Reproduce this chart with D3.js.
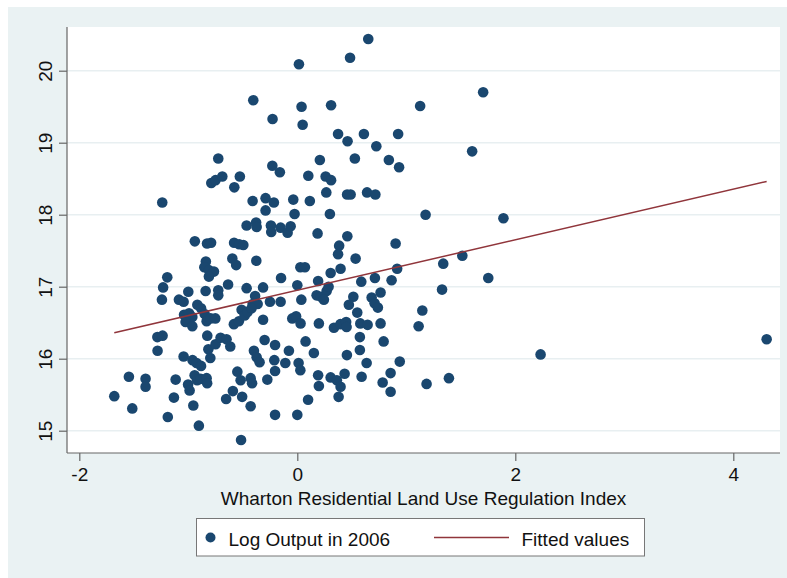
<!DOCTYPE html>
<html>
<head>
<meta charset="utf-8">
<script src="https://cdn.jsdelivr.net/npm/d3@7"></script>
<style>
  html, body { margin: 0; padding: 0; background: #ffffff; }
  svg { display: block; }
  text { font-family: "Liberation Sans", Arial, Helvetica, sans-serif; fill: #111; }
</style>
</head>
<body>
<svg id="chart" width="787" height="578"></svg>
<script>
// Wharton Residential Land Use Regulation Index (x)
const wrluri = [
  0.651, 0.484, 0.015, 1.705, -0.404, 0.039, 0.310, 1.127, -0.227, 0.049,
  0.374, 0.611, 0.925, 0.461, 0.725, 1.604, -0.725, 0.528, 0.207, 0.840,
  0.934, -0.229, -0.160, 0.101, 0.260, 0.310, -0.789, -0.750, -0.688, -0.527,
  -0.578, 0.266, 0.457, 0.489, 0.640, 0.716, -1.239, -0.410, -0.291, -0.215,
  -0.291, -0.037, 0.115, -0.025, 0.299, 1.177, 1.891, -0.465, -0.378, -0.373,
  -0.242, -0.239, -0.153, -0.089, -0.061, 0.186, 0.459, -0.940, -0.828, -0.791,
  -0.580, -0.534, -0.495, 0.902, 0.384, 0.374, 0.535, -0.596, -0.561, -0.376,
  -0.839, -0.853, -0.811, -0.765, -0.811, 1.514, 1.339, 0.916, 0.397, 0.306,
  0.028, 0.070, -1.193, -0.149, 0.712, 0.865, 1.752, 0.191, 0.587, 0.000,
  -1.231, -0.635, -0.465, -0.314, -1.000, -0.841, -0.725, -0.725, -0.387, 1.328,
  -1.242, -1.086, -1.043, -0.410, -0.364, -0.251, -0.153, 0.037, 0.177, 0.218,
  0.269, 0.287, 0.244, 0.514, 0.473, 0.550, 0.682, 0.764, 0.709, 0.739,
  -0.917, -0.883, -0.850, -0.832, -0.795, -0.752, -1.039, -0.993, -0.963, -1.025,
  -0.963, -0.582, -0.536, -0.511, -0.483, -0.456, -0.419, -0.314, -0.046, -0.011,
  0.030, 0.198, 0.336, 0.395, 0.448, 0.452, 0.578, 0.645, 0.764, 1.147,
  1.113, -1.284, -1.236, -1.282, -0.826, -0.816, -0.798, -0.750, -0.704, -0.649,
  -0.615, -1.043, -0.961, -0.924, -0.883, -0.300, -0.204, -0.077, 0.076, 0.152,
  0.574, 0.574, 0.792, 4.306, 2.232, -0.398, -0.373, -0.346, -0.211, -0.204,
  -0.110, 0.012, 0.028, 0.455, 0.636, 0.940, 0.856, 1.186, 1.391, 0.856,
  0.783, -1.545, -1.392, -1.392, -1.679, -1.514, -1.116, -1.132, -1.188, -1.002,
  -0.988, -0.942, -0.919, -0.887, -0.832, -0.827, -0.954, -0.903, -0.550, -0.520,
  -0.591, -0.653, -0.506, -0.516, -0.428, -0.415, -0.428, -0.275, -0.204, 0.000,
  0.099, 0.191, 0.198, 0.306, 0.363, 0.397, 0.434, 0.379, 0.590
];
// Log Output in 2006 (y)
const logOutput = [
  20.44, 20.18, 20.09, 19.70, 19.59, 19.50, 19.52, 19.51, 19.33, 19.25,
  19.12, 19.12, 19.12, 19.02, 18.95, 18.88, 18.78, 18.78, 18.76, 18.76,
  18.66, 18.68, 18.59, 18.54, 18.53, 18.48, 18.44, 18.48, 18.53, 18.53,
  18.38, 18.31, 18.28, 18.28, 18.31, 18.28, 18.17, 18.19, 18.23, 18.17,
  18.06, 18.21, 18.19, 18.01, 18.01, 18.00, 17.95, 17.85, 17.89, 17.83,
  17.85, 17.76, 17.82, 17.75, 17.84, 17.74, 17.70, 17.63, 17.60, 17.61,
  17.61, 17.59, 17.58, 17.60, 17.57, 17.45, 17.39, 17.39, 17.30, 17.36,
  17.35, 17.27, 17.23, 17.21, 17.14, 17.43, 17.32, 17.25, 17.25, 17.19,
  17.27, 17.27, 17.13, 17.12, 17.12, 17.09, 17.12, 17.08, 17.07, 17.02,
  16.99, 17.03, 16.98, 16.99, 16.93, 16.94, 16.95, 16.88, 16.87, 16.96,
  16.82, 16.82, 16.79, 16.76, 16.76, 16.79, 16.79, 16.82, 16.88, 16.86,
  16.94, 17.00, 16.82, 16.86, 16.75, 16.64, 16.85, 16.92, 16.77, 16.71,
  16.75, 16.70, 16.62, 16.52, 16.56, 16.56, 16.61, 16.63, 16.58, 16.51,
  16.45, 16.48, 16.52, 16.68, 16.60, 16.65, 16.70, 16.54, 16.56, 16.59,
  16.49, 16.49, 16.43, 16.48, 16.51, 16.44, 16.49, 16.47, 16.49, 16.67,
  16.45, 16.30, 16.32, 16.11, 16.32, 16.13, 16.01, 16.20, 16.29, 16.27,
  16.17, 16.03, 15.98, 15.94, 15.90, 16.26, 16.19, 16.11, 16.24, 16.08,
  16.30, 16.12, 16.24, 16.27, 16.06, 16.11, 16.02, 15.95, 15.98, 15.83,
  15.94, 15.94, 15.84, 16.05, 15.94, 15.96, 15.80, 15.65, 15.73, 15.54,
  15.67, 15.75, 15.72, 15.61, 15.48, 15.31, 15.71, 15.46, 15.19, 15.64,
  15.56, 15.77, 15.70, 15.72, 15.73, 15.66, 15.35, 15.07, 15.82, 15.70,
  15.55, 15.44, 15.47, 14.87, 15.73, 15.66, 15.34, 15.71, 15.22, 15.22,
  15.43, 15.77, 15.62, 15.74, 15.70, 15.61, 15.79, 15.47, 15.75
];
// Fitted values (linear fit)
const fitIntercept = 16.95;
const fitSlope = 0.351;
const xTicks = [-2, 0, 2, 4];
const yTicks = [15, 16, 17, 18, 19, 20];
const xTitle = "Wharton Residential Land Use Regulation Index";
const legendLabels = ["Log Output in 2006", "Fitted values"];

const points = wrluri.map((x, i) => ({ x, y: logOutput[i] }));

const svg = d3.select("#chart");
const W = 787, H = 578;
const bgColor = "#eaf2f3";
const markerColor = "#1a476f";
const lineColor = "#90353b";

// graph region background
svg.append("rect").attr("x", 8).attr("y", 7).attr("width", W - 8).attr("height", H - 7).attr("fill", bgColor);

const plot = { left: 67, right: 780, top: 27, bottom: 453 };
svg.append("rect").attr("x", plot.left).attr("y", plot.top)
  .attr("width", plot.right - plot.left).attr("height", plot.bottom - plot.top).attr("fill", "#ffffff");

const x = d3.scaleLinear().domain([-2, 4]).range([79.3, 733.3]);
const y = d3.scaleLinear().domain([15, 20]).range([430.7, 70.7]);

// gridlines
svg.append("g").selectAll("line").data(yTicks).join("line")
  .attr("x1", plot.left).attr("x2", plot.right)
  .attr("y1", d => y(d)).attr("y2", d => y(d))
  .attr("stroke", "#e8eff1").attr("stroke-width", 1.6);

// points
svg.append("g").selectAll("circle").data(points).join("circle")
  .attr("cx", d => x(d.x)).attr("cy", d => y(d.y)).attr("r", 5.3)
  .attr("fill", markerColor);

// fitted line
const xExt = d3.extent(wrluri);
svg.append("line")
  .attr("x1", x(xExt[0])).attr("y1", y(fitIntercept + fitSlope * xExt[0]))
  .attr("x2", x(xExt[1])).attr("y2", y(fitIntercept + fitSlope * xExt[1]))
  .attr("stroke", lineColor).attr("stroke-width", 1.5);

// axes
const plainFormat = d => String(d);
const yAxis = d3.axisLeft(y).tickValues(yTicks).tickSize(8).tickPadding(0).tickFormat(plainFormat);
const gy = svg.append("g").attr("transform", `translate(${plot.left},0)`).call(yAxis);
gy.select(".domain").attr("d", `M0,${plot.top}V${plot.bottom}`);
gy.selectAll(".tick text")
  .attr("x", null).attr("dy", null)
  .attr("transform", "translate(-15,0) rotate(-90)")
  .attr("text-anchor", "middle")
  .style("font-size", "19px");

const xAxis = d3.axisBottom(x).tickValues(xTicks).tickSize(8).tickFormat(plainFormat);
const gx = svg.append("g").attr("transform", `translate(0,${plot.bottom})`).call(xAxis);
gx.select(".domain").attr("d", `M${plot.left},0H${plot.right}`);
gx.selectAll(".tick text").attr("y", 28).attr("dy", null).style("font-size", "19px");

[gx, gy].forEach(g => {
  g.select(".domain").attr("stroke", "#666").attr("stroke-width", 1.2);
  g.selectAll(".tick line").attr("stroke", "#666").attr("stroke-width", 1.2);
  g.selectAll(".tick text").attr("fill", "#111").style("font-family", "'Liberation Sans', Arial, sans-serif");
});

// x title
svg.append("text").attr("x", (plot.left + plot.right) / 2).attr("y", 505)
  .attr("text-anchor", "middle").style("font-size", "19px").text(xTitle);

// legend
const lg = svg.append("g");
lg.append("rect").attr("x", 196.5).attr("y", 518.5).attr("width", 448).attr("height", 37.5)
  .attr("fill", "#ffffff").attr("stroke", "#777").attr("stroke-width", 1);
lg.append("circle").attr("cx", 210.5).attr("cy", 537.5).attr("r", 5).attr("fill", markerColor);
lg.append("text").attr("x", 228.5).attr("y", 545.5).style("font-size", "19px").text(legendLabels[0]);
lg.append("line").attr("x1", 434).attr("x2", 509).attr("y1", 537.5).attr("y2", 537.5)
  .attr("stroke", lineColor).attr("stroke-width", 1.5);
lg.append("text").attr("x", 521.5).attr("y", 545.5).style("font-size", "19px").text(legendLabels[1]);
</script>
</body>
</html>
